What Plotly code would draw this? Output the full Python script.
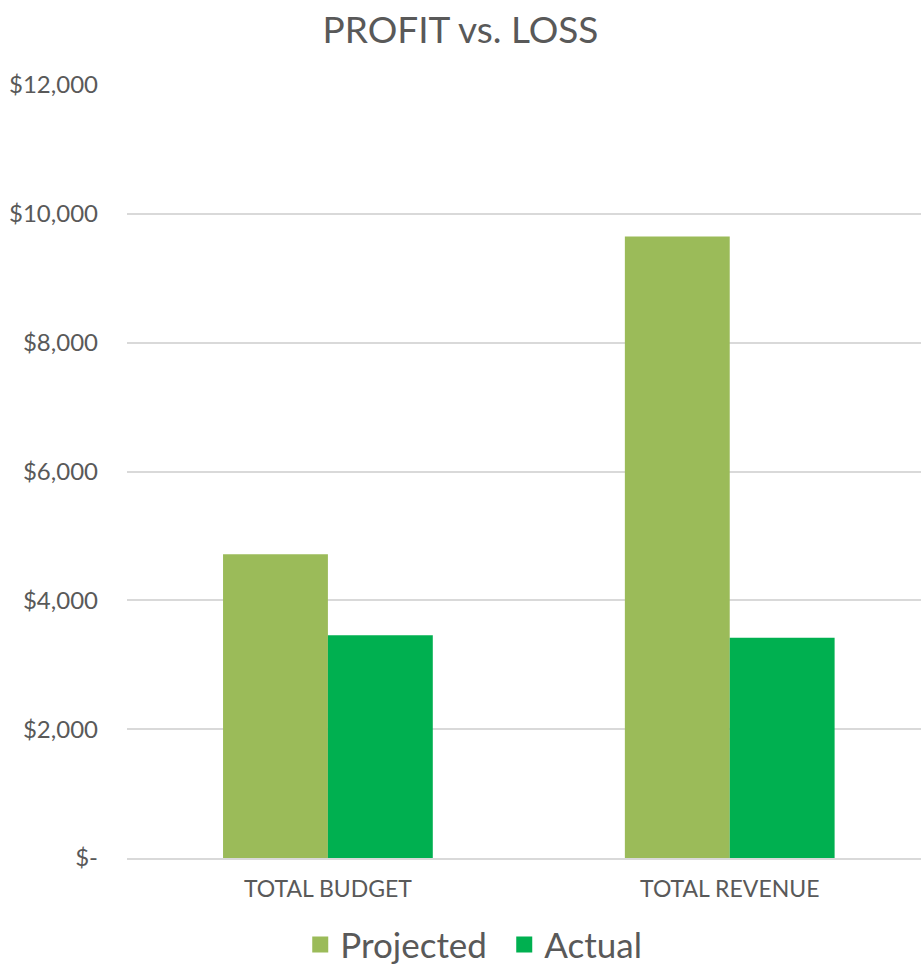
import plotly.graph_objects as go

categories = ["TOTAL BUDGET", "TOTAL REVENUE"]
projected = [4715, 9650]
actual = [3458, 3420]
tick_vals = [0, 2000, 4000, 6000, 8000, 10000, 12000]
tick_text = ["$-", "$2,000", "$4,000", "$6,000", "$8,000", "$10,000", "$12,000"]

FONT = "Lato, 'Open Sans', sans-serif"
GREY = "#595959"
C_PROJ = "#9BBB59"
C_ACT = "#00B050"

fig = go.Figure()
fig.add_trace(go.Bar(name="Projected", x=categories, y=projected, marker=dict(color=C_PROJ, line=dict(width=0)),
                     showlegend=False))
fig.add_trace(go.Bar(name="Actual", x=categories, y=actual, marker=dict(color=C_ACT, line=dict(width=0)),
                     showlegend=False))
# legend entries with larger square keys
fig.add_trace(go.Scatter(name="Projected", x=[categories[0]], y=[None], mode="markers",
                         marker=dict(symbol="square", size=18, color=C_PROJ), showlegend=True, hoverinfo="skip"))
fig.add_trace(go.Scatter(name="Actual", x=[categories[0]], y=[None], mode="markers",
                         marker=dict(symbol="square", size=18, color=C_ACT), showlegend=True, hoverinfo="skip"))

fig.update_layout(
    width=921, height=965,
    paper_bgcolor="white", plot_bgcolor="white",
    margin=dict(l=127, r=0, t=85, b=107, autoexpand=False),
    barmode="group", bargap=0.478, bargroupgap=0,
    title=dict(text="PROFIT vs. LOSS", x=0.5, xanchor="center", y=0.969, yanchor="middle",
               font=dict(family=FONT, size=37, color=GREY)),
    font=dict(family=FONT, color=GREY),
    legend=dict(orientation="h", x=0.326, xanchor="left", xref="container", y=0.021, yanchor="middle",
                yref="container", font=dict(size=35, color=GREY), itemwidth=30, traceorder="normal",
                entrywidth=159, entrywidthmode="pixels"),
    showlegend=True,
)
fig.update_xaxes(range=[-0.5, 1.476], showgrid=False, showline=True, linecolor="#D9D9D9", linewidth=1.5,
                 ticks="", tickfont=dict(size=23, color=GREY), ticklabelstandoff=10, automargin=False)
fig.update_yaxes(range=[0, 12001], tickvals=tick_vals, ticktext=tick_text, showgrid=True,
                 gridcolor="#D9D9D9", gridwidth=1.5, zeroline=False, showline=False, ticks="",
                 tickfont=dict(size=24, color=GREY), ticklabelstandoff=28, automargin=False)

fig.write_html("out.html", config={"displayModeBar": False},
               post_script="document.body.style.margin='0';document.body.style.overflow='hidden';")
